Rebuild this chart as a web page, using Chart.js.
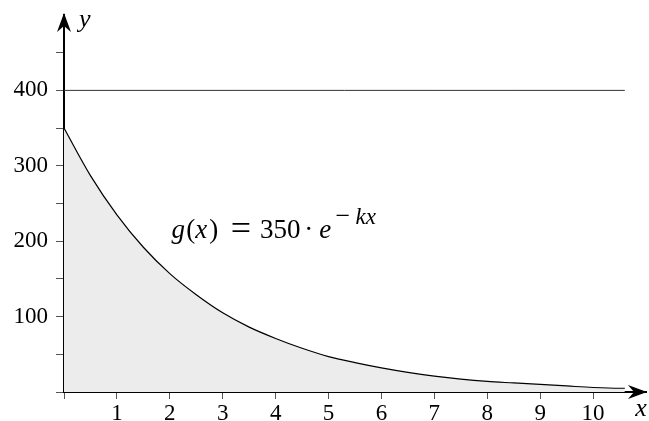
<!DOCTYPE html>
<html>
<head>
<meta charset="utf-8">
<title>g(x) = 350 · e^-kx</title>
<script src="https://cdn.jsdelivr.net/npm/chart.js@4"></script>
<style>
  html, body { margin: 0; padding: 0; background: #fff; }
</style>
</head>
<body>
<canvas id="decayChart" width="649" height="421"></canvas>
<script>
// decay curve g(x), sampled every half unit
const xValues = [0, 0.5, 1, 1.5, 2, 2.5, 3, 3.5, 4, 4.5, 5, 5.5, 6, 6.5, 7, 7.5, 8, 8.5, 9, 9.5, 10, 10.5, 10.6];
const gValues = [350, 287, 235, 192, 157, 129, 105, 86, 71, 58, 47, 39, 32, 26, 21, 17, 14, 12, 10, 8, 6, 5, 5];

// horizontal reference line at 400
const limitX = [0, 10.6];
const limitY = [400, 400];

// labelled ticks
const xTickLabels = [1, 2, 3, 4, 5, 6, 7, 8, 9, 10];
const yTickLabels = [100, 200, 300, 400];

const xMax = 11;
const yMax = 500;

const serif = "'Liberation Serif', 'DejaVu Serif', serif";

// formula pieces: text, font, x offset of the centre, baseline shift
const formulaParts = [
  ["g", "italic 27px", 8.5, 0],
  ["(", "27px", 21, 0],
  ["x", "italic 27px", 31.5, 0],
  [")", "27px", 44, 0],
  ["=", "36px", 71, 2],
  ["350", "27px", 110.5, 0],
  ["\u00b7", "27px", 139, 0],
  ["e", "italic 27px", 155.5, 0],
  ["\u2212", "26px", 173, -14],
  ["kx", "italic 23px", 196, -14],
];

// arrow heads on the axes, axis names and the formula
const axisDecor = {
  id: "axisDecor",
  afterDraw(chart) {
    const { ctx, scales } = chart;
    const x = scales.x;
    const y = scales.y;
    const x0 = x.getPixelForValue(0);
    const y0 = y.getPixelForValue(0);
    const xTip = x.getPixelForValue(xMax) + 1;
    const yTip = y.getPixelForValue(yMax) - 2;

    ctx.save();
    ctx.fillStyle = "#000";

    ctx.beginPath();
    ctx.moveTo(x0, yTip);
    ctx.lineTo(x0 + 7, yTip + 19);
    ctx.lineTo(x0, yTip + 13);
    ctx.lineTo(x0 - 7, yTip + 19);
    ctx.closePath();
    ctx.fill();

    ctx.beginPath();
    ctx.moveTo(xTip, y0);
    ctx.lineTo(xTip - 19, y0 - 7);
    ctx.lineTo(xTip - 13, y0);
    ctx.lineTo(xTip - 19, y0 + 7);
    ctx.closePath();
    ctx.fill();

    ctx.textBaseline = "alphabetic";
    ctx.font = "italic 26px " + serif;
    ctx.textAlign = "left";
    ctx.fillText("y", x0 + 15, yTip + 14);
    ctx.textAlign = "center";
    ctx.fillText("x", xTip - 6, y0 + 24);

    // g(x) = 350 · e^(−kx)
    const fx = x.getPixelForValue(2);
    const fy = y.getPixelForValue(204);
    ctx.textAlign = "center";
    formulaParts.forEach(([txt, font, dx, dy]) => {
      ctx.font = font + " " + serif;
      ctx.fillText(txt, fx + dx, fy + dy);
    });
    ctx.restore();
  },
};

const ctx = document.getElementById("decayChart").getContext("2d");
const decayChart = new Chart(ctx, {
  type: "line",
  data: {
    datasets: [
      {
        label: "g(x)",
        data: xValues.map((v, i) => ({ x: v, y: gValues[i] })),
        borderColor: "#000",
        borderWidth: 1.2,
        backgroundColor: "#ececec",
        fill: "origin",
        pointRadius: 0,
        cubicInterpolationMode: "monotone",
      },
      {
        label: "400",
        data: limitX.map((v, i) => ({ x: v, y: limitY[i] })),
        borderColor: "#333",
        borderWidth: 1,
        fill: false,
        pointRadius: 0,
      },
    ],
  },
  options: {
    responsive: false,
    animation: false,
    devicePixelRatio: 1,
    layout: {
      padding: { top: 15, right: 3, left: 0, bottom: 0 },
    },
    plugins: {
      legend: { display: false },
      tooltip: { enabled: false },
    },
    scales: {
      x: {
        type: "linear",
        min: 0,
        max: xMax,
        z: 1,
        border: { color: "#000", width: 2 },
        grid: {
          drawOnChartArea: false,
          tickLength: 7,
          tickColor: (c) => (c.tick && c.tick.value === xMax ? "rgba(0,0,0,0)" : "#555"),
        },
        ticks: {
          stepSize: 1,
          autoSkip: false,
          maxRotation: 0,
          padding: 1,
          color: "#000",
          font: { family: serif, size: 23 },
          callback: (v) => (xTickLabels.includes(v) ? String(v) : ""),
        },
        afterFit: (s) => {
          s.height = 29;
          s.paddingLeft = 0;
          s.paddingRight = 0;
        },
      },
      y: {
        min: 0,
        max: yMax,
        z: 1,
        border: { color: "#000", width: 2 },
        grid: {
          drawOnChartArea: false,
          tickLength: 8,
          tickColor: (c) => (c.tick && c.tick.value === yMax ? "rgba(0,0,0,0)" : "#555"),
        },
        ticks: {
          stepSize: 50,
          autoSkip: false,
          padding: 8,
          color: "#000",
          font: { family: serif, size: 23 },
          callback: (v) => (yTickLabels.includes(v) ? String(v) : ""),
        },
        afterFit: (s) => {
          s.width = 64;
          s.paddingTop = 0;
          s.paddingBottom = 0;
        },
      },
    },
  },
  plugins: [axisDecor],
});
</script>
</body>
</html>
